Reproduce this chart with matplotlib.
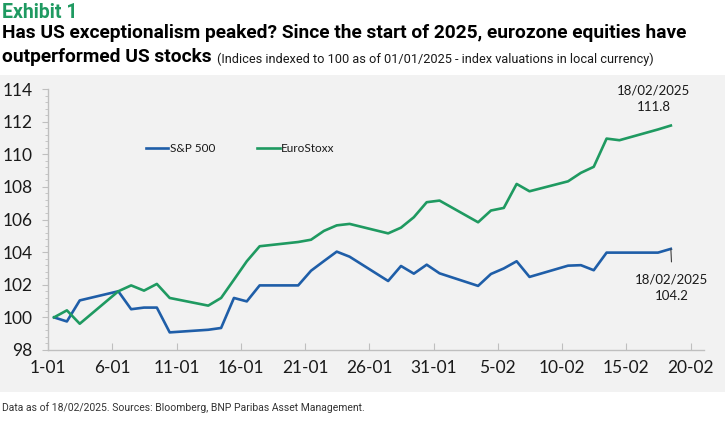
import matplotlib
matplotlib.use("Agg")
import matplotlib.pyplot as plt
import numpy as np

# ---- data ----
dates = ["01/01", "02/01", "03/01", "06/01", "07/01", "08/01", "09/01", "10/01",
         "13/01", "14/01", "15/01", "16/01", "17/01", "20/01", "21/01", "22/01",
         "23/01", "24/01", "27/01", "28/01", "29/01", "30/01", "31/01",
         "03/02", "04/02", "05/02", "06/02", "07/02", "10/02", "11/02", "12/02",
         "13/02", "14/02", "17/02", "18/02"]
sp500 = [100.0, 99.75, 101.04, 101.6, 100.5, 100.6, 100.6, 99.08,
         99.24, 99.35, 101.19, 100.98, 101.96, 101.96, 102.86, 103.45,
         104.03, 103.72, 102.23, 103.15, 102.68, 103.23, 102.7,
         101.93, 102.66, 103.0, 103.44, 102.48, 103.17, 103.2, 102.89,
         103.97, 103.97, 103.97, 104.2]
eurostoxx = [100.0, 100.43, 99.61, 101.6, 101.96, 101.64, 102.05, 101.19,
             100.72, 101.19, 102.31, 103.44, 104.36, 104.62, 104.76, 105.3,
             105.64, 105.73, 105.15, 105.5, 106.14, 107.06, 107.16,
             105.83, 106.55, 106.71, 108.18, 107.73, 108.34, 108.86, 109.23,
             110.96, 110.86, 111.52, 111.76]
tick_labels = ["1-01", "6-01", "11-01", "16-01", "21-01", "26-01", "31-01",
               "5-02", "10-02", "15-02", "20-02"]
series_names = ["S&P 500", "EuroStoxx"]
last_label_sp = "18/02/2025\n104.2"
last_label_eu = "18/02/2025\n111.8"

# day index since 1 Jan
month_start = {"01": 0, "02": 31}
days = np.array([int(d[:2]) - 1 + month_start[d[3:]] for d in dates])

BLUE = "#1f5ea8"
GREEN = "#1f9a61"
BG = "#f2f2f2"
TXT = "#1a1a1a"
FAM = ["Lato", "DejaVu Sans"]
TFAM = ["Roboto", "DejaVu Sans"]

W, H = 725, 425
fig = plt.figure(figsize=(W / 100, H / 100), dpi=100)
fig.patch.set_facecolor("white")

# grey panel behind the chart
panel = plt.Rectangle((0, 1 - 392 / H), 1, (392 - 75) / H, transform=fig.transFigure,
                      facecolor=BG, edgecolor="none", zorder=-5)
fig.patches.append(panel)

ax = fig.add_axes([48 / W, 1 - 350 / H, (704 - 48) / W, (350 - 89) / H], zorder=1)
ax.patch.set_visible(False)

off = 0.47  # points sit slightly right of the day ticks
ax.plot(days + off, sp500, color=BLUE, lw=1.9, label=series_names[0])
ax.plot(days + off, eurostoxx, color=GREEN, lw=1.9, label=series_names[1])

ax.set_xlim(0, 51.05)
ax.set_ylim(98, 114)
ax.set_xticks(np.arange(0, 51, 5))
ax.set_xticklabels(tick_labels)
ax.set_yticks(np.arange(98, 115, 2))
ax.set_yticks(np.arange(98, 114.01, 0.4), minor=True)

for s in ["top", "right"]:
    ax.spines[s].set_visible(False)
for s in ["left", "bottom"]:
    ax.spines[s].set_color("#bfbfbf")
    ax.spines[s].set_linewidth(1.0)

ax.tick_params(axis="x", which="major", direction="in", length=5, color="#bfbfbf",
               pad=7, labelsize=12.5, labelcolor=TXT)
ax.tick_params(axis="x", which="minor", length=0)
ax.tick_params(axis="y", which="major", direction="out", length=4, color="#bfbfbf",
               pad=7, labelsize=12.5, labelcolor=TXT)
ax.tick_params(axis="y", which="minor", direction="out", length=2.5, color="#bfbfbf")
for lab in ax.get_xticklabels() + ax.get_yticklabels():
    lab.set_fontfamily(FAM)

leg = ax.legend(loc="center left", bbox_to_anchor=(140 / W, 1 - 149 / H),
                bbox_transform=fig.transFigure, ncol=2, frameon=False,
                handlelength=1.9, handletextpad=0.1, columnspacing=3.6,
                borderpad=0, prop=dict(family=FAM, size=8.5))
for t in leg.get_texts():
    t.set_color(TXT)

# end-point annotations
xe = days[-1] + off
ax.annotate(last_label_eu, xy=(xe, eurostoxx[-1]), xytext=(-17, 13), textcoords="offset pixels",
            ha="center", va="bottom", fontsize=9.5, color=TXT, linespacing=1.4, family=FAM)
ax.annotate(last_label_sp, xy=(xe, sp500[-1]), xytext=(0.5, -25), textcoords="offset pixels",
            ha="center", va="top", fontsize=9.5, color=TXT, linespacing=1.4, family=FAM)
ax.annotate("", xy=(xe, sp500[-1]), xytext=(xe + 0.05, sp500[-1] - 0.8),
            arrowprops=dict(arrowstyle="-", color="#404040", lw=0.8, shrinkA=0, shrinkB=0))

# titles (fit widths to the reference)
fig.canvas.draw()
rend = fig.canvas.get_renderer()


def fit_text(x, y, s, target_w, size0, **kw):
    t = fig.text(x / W, 1 - y / H, s, fontsize=size0, va="center", ha="left", **kw)
    w = t.get_window_extent(rend).width
    t.set_fontsize(size0 * target_w / w)
    return t


fit_text(2, 12, "Exhibit 1", 76, 13, color=GREEN, fontweight="bold", family=TFAM)
fit_text(2, 33, "Has US exceptionalism peaked? Since the start of 2025, eurozone equities have",
         686, 12, color="black", fontweight="bold", family=TFAM)
t2 = fit_text(2, 57, "outperformed US stocks", 209, 12, color="black", fontweight="bold", family=TFAM)
bb = t2.get_window_extent(rend)
fit_text(bb.x1 + 5, 59,
         "(Indices indexed to 100 as of 01/01/2025 - index valuations in local currency)",
         658 - bb.x1 - 5, 9, color=TXT, family=TFAM)
fit_text(2, 408, "Data as of 18/02/2025. Sources: Bloomberg, BNP Paribas Asset Management.",
         362, 7.5, color="#333333", family=TFAM)

fig.savefig("out.png", dpi=100, facecolor="white")
